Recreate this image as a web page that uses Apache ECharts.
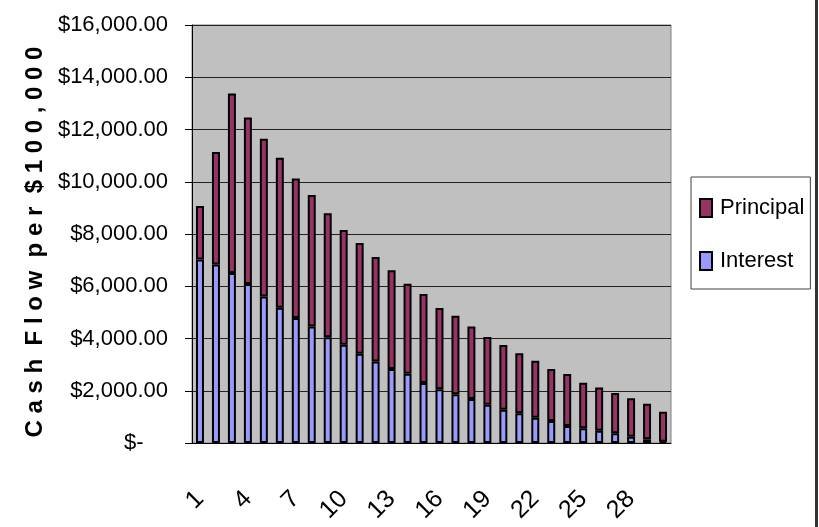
<!DOCTYPE html>
<html>
<head>
<meta charset="utf-8">
<script src="https://cdn.jsdelivr.net/npm/echarts@6/dist/echarts.min.js"></script>
<style>
html,body{margin:0;padding:0;background:#fff;}
#chart{width:819px;height:527px;}
</style>
</head>
<body>
<div id="chart"></div>
<script>
var categories = ['1','2','3','4','5','6','7','8','9','10','11','12','13','14','15','16','17','18','19','20','21','22','23','24','25','26','27','28','29','30'];
var interest = [7020,6830,6510,6090,5610,5180,4780,4460,4050,3760,3420,3120,2830,2650,2300,2060,1870,1680,1460,1270,1140,970,840,650,560,470,370,240,140,50];
var principal = [2050,4310,6870,6370,6040,5740,5340,5030,4740,4390,4240,4000,3780,3450,3400,3110,3000,2780,2600,2480,2300,2180,1990,1990,1750,1650,1540,1470,1360,1150];
var yTicks = [0,2000,4000,6000,8000,10000,12000,14000,16000];

var FONT = "'Liberation Sans',Arial,sans-serif";

function money(v){
  if (v === 0) return '$-    ';
  return '$' + v.toLocaleString('en-US') + '.00';
}

var chart = echarts.init(document.getElementById('chart'), null, {renderer:'canvas'});
chart.setOption({
  animation:false,
  backgroundColor:'#ffffff',
  textStyle:{fontFamily:FONT},
  grid:{left:192, right:148, top:25, bottom:84, outerBoundsMode:'none', containLabel:false,
        show:true, backgroundColor:'#C0C0C0', borderColor:'#808080', borderWidth:1},
  legend:{
    orient:'vertical', left:691, top:177,
    data:['Principal','Interest'],
    itemWidth:12, itemHeight:18, itemGap:31,
    padding:[20,6,17,8],
    backgroundColor:'#ffffff', borderColor:'#404040', borderWidth:1,
    textStyle:{fontFamily:FONT, fontSize:22, color:'#000', padding:[0,0,0,3]},
    icon:'rect'
  },
  xAxis:{
    type:'category', data:categories,
    axisLine:{lineStyle:{color:'#000', width:1}},
    axisTick:{interval:0, length:10, lineStyle:{color:'#000'}},
    axisLabel:{interval:2, rotate:45, margin:52, fontFamily:FONT, fontSize:25, color:'#000'}
  },
  yAxis:{
    type:'value', min:yTicks[0], max:yTicks[yTicks.length-1], interval:2000,
    name:'C a s h  F l o w  p e r  $ 1 0 0 , 0 0 0',
    nameLocation:'middle', nameGap:140,
    nameTextStyle:{fontFamily:FONT, fontSize:24, fontWeight:'bold', color:'#000', padding:[0,16,0,0]},
    axisLine:{show:true, lineStyle:{color:'#000', width:1}},
    axisTick:{show:true, length:7, lineStyle:{color:'#000'}},
    axisLabel:{margin:24, fontFamily:FONT, fontSize:22, color:'#000', formatter:money},
    splitLine:{lineStyle:{color:'#222', width:1}}
  },
  series:[
    {name:'Interest', type:'bar', stack:'cf', data:interest, barWidth:'50%',
     itemStyle:{color:'#9999FF', borderColor:'#000', borderWidth:2}},
    {name:'Principal', type:'bar', stack:'cf', data:principal, barWidth:'50%',
     itemStyle:{color:'#993366', borderColor:'#000', borderWidth:2}}
  ],
  graphic:[
    {type:'rect', left:815, top:0, shape:{width:3, height:527}, style:{fill:'#333'}}
  ]
});
</script>
</body>
</html>
